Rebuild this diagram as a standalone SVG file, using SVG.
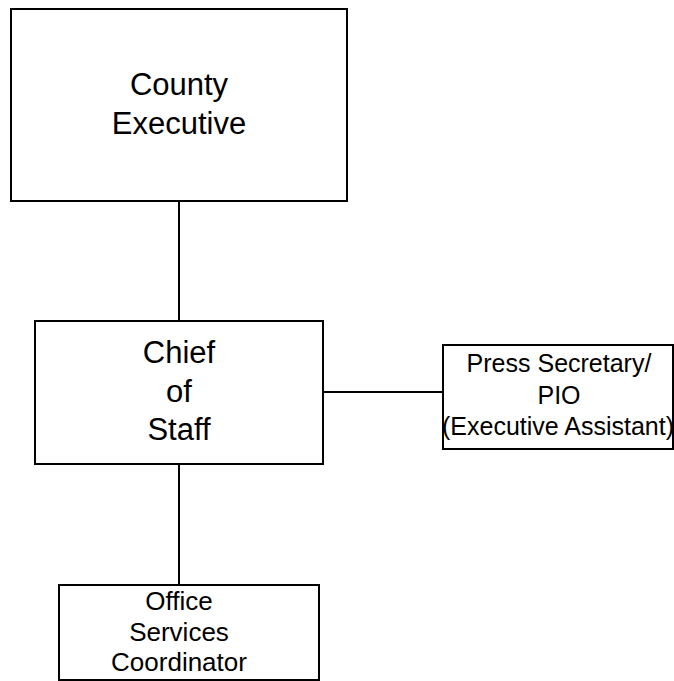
<svg xmlns="http://www.w3.org/2000/svg" width="674" height="681" viewBox="0 0 674 681">
<style>
.box{fill:#fff;stroke:#000;stroke-width:2}
.conn line{stroke:#000;stroke-width:2}
text{font-family:"Liberation Sans",Arial,sans-serif;fill:#000;text-anchor:middle}
.big{font-size:31px}
.mid{font-size:25px}
.sm{font-size:26px}
</style>
<rect width="674" height="681" fill="#fff"/>
<g class="conn" id="connectors">
<line x1="179" y1="201" x2="179" y2="321"/>
<line x1="179" y1="464" x2="179" y2="585"/>
<line x1="323" y1="392" x2="443" y2="392"/>
</g>
<g id="county-executive">
<rect class="box" x="11" y="9" width="336" height="192"/>
<text class="big" x="179" y="95">County</text>
<text class="big" x="179" y="133.5">Executive</text>
</g>
<g id="chief-of-staff">
<rect class="box" x="35" y="321" width="288" height="143"/>
<text class="big" x="179" y="363">Chief</text>
<text class="big" x="179" y="401.5">of</text>
<text class="big" x="179" y="440">Staff</text>
</g>
<g id="press-secretary">
<rect class="box" x="443" y="345" width="230" height="104"/>
<text class="mid" x="559" y="372">Press Secretary/</text>
<text class="mid" x="559" y="404">PIO</text>
<text class="mid" x="558" y="435">(Executive Assistant)</text>
</g>
<g id="office-services">
<rect class="box" x="59" y="585" width="260" height="95"/>
<text class="sm" x="179" y="610">Office</text>
<text class="sm" x="179" y="640.5">Services</text>
<text class="sm" x="179" y="671">Coordinator</text>
</g>
</svg>
